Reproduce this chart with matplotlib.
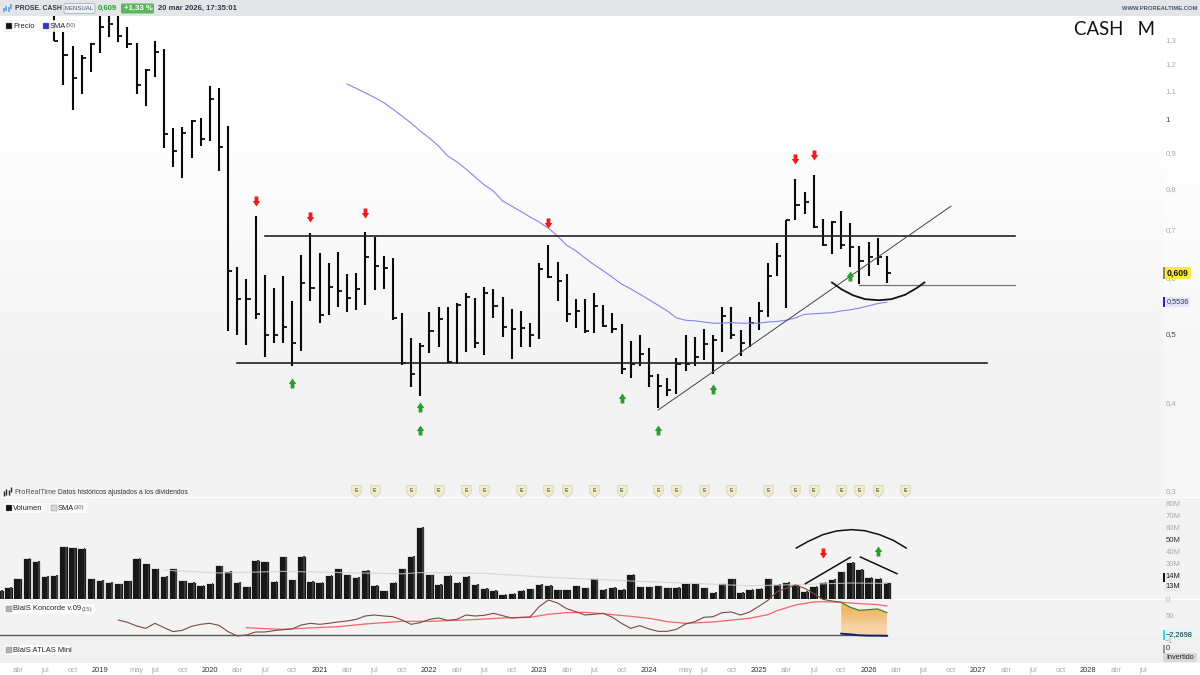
import numpy as np
import matplotlib
matplotlib.use('Agg')
import matplotlib.pyplot as plt
from matplotlib.colors import LinearSegmentedColormap
from matplotlib.patches import FancyBboxPatch, Rectangle
from matplotlib.path import Path
from matplotlib.ticker import NullLocator

plt.rcParams['font.family'] = ['Liberation Sans', 'DejaVu Sans']

# months counted from jan 2019 = 0
price_start = -5
price_high = [1.41,1.330,1.272,1.235,1.284,1.43,1.43,1.43,1.352,1.284,1.180,1.292,1.259,.974,.977,1.000,1.007,1.116,1.109,.981,
              .620,.597,.732,.604,.580,.602,.556,.645,.693,.650,.629,.652,.606,.608,.695,.684,.643,.639,.534,.493,
              .485,.537,.545,.545,.552,.570,.561,.582,.578,.563,.542,.538,.517,.629,.666,.631,.606,.560,.560,.570,
              .548,.534,.515,.488,.498,.477,.438,.433,.462,.497,.495,.507,.497,.545,.545,.506,.527,.554,.629,.671,
              .723,.826,.792,.836,.725,.721,.744,.716,.664,.673,.682,.643]
price_low = [1.293,1.120,1.033,1.088,1.169,1.243,1.309,1.289,1.263,1.088,1.047,1.150,.913,.859,.828,.884,.918,.934,.847,.504,
             .498,.482,.524,.463,.485,.485,.450,.472,.556,.517,.531,.545,.537,.540,.548,.576,.578,.522,.451,.420,
             .408,.469,.478,.454,.453,.471,.477,.466,.525,.495,.460,.478,.478,.491,.599,.556,.519,.509,.501,.501,
             .511,.501,.438,.433,.450,.420,.393,.408,.411,.442,.450,.459,.438,.471,.491,.465,.478,.506,.527,.602,
             .543,.723,.737,.705,.664,.648,.658,.620,.587,.602,.625,.589]
price_close = [1.293,1.235,1.146,1.223,1.280,1.352,1.366,1.314,1.280,1.120,1.176,1.247,.956,.904,.959,.997,.940,1.070,.916,.612,
               .560,.560,.533,.498,.497,.511,.485,.589,.580,.531,.582,.574,.561,.578,.641,.622,.618,.525,.454,.439,
               .480,.504,.524,.456,.548,.563,.485,.570,.547,.511,.508,.509,.498,.616,.601,.593,.533,.538,.504,.547,
               .512,.508,.446,.453,.468,.436,.422,.416,.453,.453,.463,.483,.490,.529,.498,.485,.517,.538,.602,.643,
               .723,.759,.767,.707,.666,.718,.666,.662,.633,.641,.641,.609]

sma50_start = 27
sma50 = [1.124,1.108,1.092,1.076,1.058,1.036,1.013,.990,.965,.943,.919,.890,.873,.853,.831,.810,.794,.769,.756,.743,
         .730,.718,.704,.686,.666,.654,.639,.625,.613,.600,.587,.578,.568,.558,.548,.538,.526,.522,.521,.519,
         .517,.517,.518,.517,.517,.517,.519,.520,.522,.526,.532,.533,.534,.535,.538,.540,.543,.547,.551,.5536]

sell_x = [17,23,29,49,76,78]
sell_y = [.769,.730,.739,.716,.881,.893]
buy_x = [21,35,35,57,61,67,82]
buy_y = [.426,.394,.365,.405,.365,.418,.603]

res_x, res_y = [18,100], [.687,.687]
sup_x, sup_y = [15,96.9], [.4543,.4543]
trend_x, trend_y = [61,93], [.390,.756]
neck_x, neck_y = [83,100], [.585,.585]
bowl_x = [80,81.05,82.3,83.6,85.1,86.5,88,89.3,90.1]
bowl_y = [.590,.577,.566,.559,.557,.559,.567,.580,.590]

div_x = [28,30,34,37,40,42,46,49,51,54,57,61,63,66,69,73,76,78,81,83,85,88]

vol_start = -11
volume = [7.8,10,17.2,34.4,32,19.4,20.3,43.9,43.3,42.8,17.2,
          16.1,14.4,13.1,15.6,34.4,29.7,25.6,19.4,25.6,15.8,14.2,11.7,
          13.6,28.1,23.6,14.2,10.6,32.5,31.4,15.3,35.6,16.4,36.1,15.3,
          14.2,20.3,25.6,20.8,18.6,24.2,11.7,7.2,14.2,25.8,36.1,60,
          20.8,12.5,20.3,14.2,19.4,12.5,9.2,7.8,4.4,5.3,7.8,8.9,
          12.5,11.9,8.3,8.3,11.4,9.7,17.2,8.6,10.3,8.6,21.1,10.8,
          10.8,11.4,9.7,10.3,13.1,13.3,9.7,6.1,13.3,17.2,6.1,8.6,
          9.4,17.2,12.5,14.2,11.9,6.9,11.1,14.2,16.7,23.3,31.1,25,18.6,17.8,14]
vsma_x = [7,13,20,33,35,42,49,59,64,71,76,82,86]
vsma_y = [24,21.7,23,21,22,21.4,18,14.7,13.3,11,12,13.3,13]
cup_x = [76.1,77.4,79,80.5,82.1,83.6,85.2,86.7,88.1]
cup_y = [42.5,48,53.6,56.7,57.8,56.9,53.6,48.9,42.5]
rise_x, rise_y = [77.1,82], [12.8,34.7]
fall_x, fall_y = [83.1,87.1], [35,21.1]

kon_start = 2
kon_brown = [39.5,33.3,23.7,17.5,30.7,19.3,8.8,12.3,22.8,28.1,30.7,25.4,8.8,-2.6,0,7.9,7.9,11.4,14,15.8,
             26.3,30.7,28.1,30.7,34.2,36.8,41.2,50,52.6,50,48.2,39.5,
             28.1,32.5,41.2,44.7,38.6,41.2,52.6,50,51.8,57,50.9,44.7,46.5,47.4,74.6,92.1,84.2,69.3,61.4,52.6,
             54.4,57,46.5,30.7,17.5,24.6,15.8,9.6,9.6,14.9,28.9,35.1,46.5,48.2,58.8,60.5,52.6,60.5,75.4,91.2,
             114,122.8,131.6,122.8,109.6,93.9,89.5,86]
kon_red_x = [16,18,20,22,26,29,33,36,40,44,47,49,51,53,55,56,58,60,62,64,67,71,73,74,76,78,79,81,83,85,86]
kon_red_y = [19.3,16.7,14.9,17.5,21.9,28.9,36,36,39.5,44.7,46.5,54.4,58.8,59.6,56.1,53.5,49.1,43.9,35.1,30.7,34.2,43.9,53.5,64,78.9,86.8,87.7,86,82.5,79.8,76.3]
kon_green_x = [81,82,83,84,85,86]
kon_green_y = [86,72.8,64.9,66.7,68.4,58.8]
kon_blue_y = [3.5,1.8,-0.9,-1.8,-1.8,-2.27]

price_ticks = [1.3,1.2,1.1,1,.9,.8,.7,.6,.5,.4,.3]
price_labels = ['1,3','1,2','1,1','1','0,9','0,8','0,7','0,6','0,5','0,4','0,3']
vol_ticks = [80,70,60,50,40,30,0]
vol_labels = ['80M','70M','60M','50M','40M','30M','0']
month_ticks = [-9,-6,-3,0,4,6,9,12,15,18,21,24,27,30,33,36,39,42,45,48,51,54,57,60,64,66,69,72,75,78,81,84,87,90,93,96,99,102,105,108,111,114]
month_labels = ['abr','jul','oct','2019','may','jul','oct','2020','abr','jul','oct','2021','abr','jul','oct','2022','abr','jul','oct','2023','abr','jul','oct','2024','may','jul','oct','2025','abr','jul','oct','2026','abr','jul','oct','2027','abr','jul','oct','2028','abr','jul']

W, H = 1200, 675
RIGHT = 1163
x_min = -100/9.15
x_max = (RIGHT-100)/9.15


def make_ax(top, bottom, zorder):
    ax = fig.add_axes([0, 1-bottom/H, RIGHT/W, (bottom-top)/H], zorder=zorder)
    ax.patch.set_visible(False)
    for s in ax.spines.values():
        s.set_visible(False)
    ax.yaxis.tick_right()
    ax.tick_params(axis='both', length=0, labelsize=5.6, pad=2)
    ax.set_xticks([])
    return ax


def chip(x0, x1, y, square, text, note=None, note_x=None, text_x=13):
    ov.add_patch(FancyBboxPatch((x0, y-5.5), x1-x0, 11, boxstyle='round,pad=0,rounding_size=2',
                                fc='white', ec='#eeeeee', lw=0.5, alpha=0.9))
    ov.add_patch(Rectangle((text_x-7, y-3), 6, 6, fc=square, ec='#888888', lw=0.3))
    ov.text(text_x, y, text, fontsize=5.4, color='#222222', va='center')
    if note:
        ov.text(note_x, y, note, fontsize=4.2, color='#555555', va='center')


def pill(x0, x1, y, text, fc, color='#222222', weight='normal', edge=None, h=11, size=5.6):
    ov.add_patch(FancyBboxPatch((x0, y-h/2), x1-x0, h, boxstyle='round,pad=0,rounding_size=1.5',
                                fc=fc, ec='none', lw=0))
    if edge:
        ov.add_patch(Rectangle((x0-1, y-h/2), 2, h, fc=edge, ec='none'))
    ov.text((x0+x1)/2+0.5, y, text, fontsize=size, color=color, weight=weight, ha='center', va='center')


fig = plt.figure(figsize=(12, 6.75), dpi=100, facecolor='white')

# backgrounds
bg = fig.add_axes([0, 0, 1, 1], zorder=0)
bg.set_xlim(0, W)
bg.set_ylim(H, 0)
bg.axis('off')
ramp = LinearSegmentedColormap.from_list('ramp', ['#fefefe', '#f3f3f3'])
bg.imshow([[0], [1]], cmap=ramp, extent=[0, RIGHT, 497, 16], aspect='auto', interpolation='bilinear', vmin=0, vmax=1)
bg.imshow([[0], [1]], cmap=LinearSegmentedColormap.from_list('ramp2', ['#ffffff', '#f6f6f6']),
          extent=[RIGHT, W, 497, 16], aspect='auto', interpolation='bilinear', vmin=0, vmax=1)
bg.add_patch(Rectangle((0, 497.5), W, 101.5, fc='#f3f3f3', ec='none'))
bg.add_patch(Rectangle((0, 600), W, 37, fc='#f3f3f3', ec='none'))
bg.add_patch(Rectangle((0, 637), W, 26, fc='#f0f0f0', ec='none'))
bg.set_xlim(0, W)
bg.set_ylim(H, 0)

# price panel
ax = make_ax(16, 497, 2)
ax.set_yscale('log')
px = np.arange(price_start, price_start+len(price_close))
ax.vlines(px, price_low, price_high, color='#0a0a0a', lw=1.5)
ax.hlines(price_close, px, px+0.45, color='#0a0a0a', lw=1.3)
ax.plot(np.arange(sma50_start, sma50_start+len(sma50)), sma50, color='#8585ee', lw=0.8)
ax.plot(res_x, res_y, color='#222222', lw=1.2)
ax.plot(sup_x, sup_y, color='#222222', lw=1.2)
ax.plot(trend_x, trend_y, color='#444444', lw=0.7)
ax.plot(neck_x, neck_y, color='#777777', lw=0.9)
ax.plot(bowl_x, bowl_y, color='#111111', lw=1.3)

# arrows as own marker
down = Path([(-.38,1),(.38,1),(.38,.1),(.75,.1),(0,-1),(-.75,.1),(-.38,.1),(-.38,1)], closed=True)
up = Path([(-.38,-1),(.38,-1),(.38,-.1),(.75,-.1),(0,1),(-.75,-.1),(-.38,-.1),(-.38,-1)], closed=True)
ax.plot(sell_x, sell_y, ls='none', marker=down, ms=7.2, color='#ee1c1c', mew=0)
ax.plot(buy_x, buy_y, ls='none', marker=up, ms=7.2, color='#2a9d2f', mew=0)

# dividend shields
shield = Path([(-.8,1),(.8,1),(.8,-.25),(0,-1),(-.8,-.25),(-.8,1)], closed=True)
ax.plot(div_x, [0.0125]*len(div_x), ls='none', marker=shield, ms=8.5, mfc='#eeeecd', mec='#cfcfa5', mew=0.5,
        transform=ax.get_xaxis_transform(), clip_on=False)
for d in div_x:
    ax.text(d, 0.0135, 'E', fontsize=3.6, color='#66664a', ha='center', va='center', weight='bold',
            transform=ax.get_xaxis_transform())

ax.set_xlim(x_min, x_max)
ax.set_ylim(np.exp((120-497)/308), np.exp((120-16)/308))
ax.yaxis.set_minor_locator(NullLocator())
ax.set_yticks(price_ticks)
ax.set_yticklabels(price_labels)
for t, lab in zip(ax.get_yticklabels(), price_labels):
    t.set_color('#444444' if lab in ('1', '0,5') else '#aaaaaa')

# volume panel
vx = np.arange(vol_start, vol_start+len(volume))
vax = make_ax(497, 599, 3)
vax.bar(vx, volume, width=0.92, color='#181818', edgecolor='white', linewidth=0.5)
vax.bar(vx+0.3, np.array(volume)-0.4, width=0.18, color='#3c3c3c', linewidth=0)
vax.plot(vsma_x, vsma_y, color='#cfcfcf', lw=0.8, alpha=0.8)
vax.plot(cup_x, cup_y, color='#111111', lw=1.1)
vax.plot(rise_x, rise_y, color='#111111', lw=1.1)
vax.plot(fall_x, fall_y, color='#111111', lw=1.1)
vax.plot([79], [38.3], ls='none', marker=down, ms=7.2, color='#ee1c1c', mew=0)
vax.plot([85], [39.7], ls='none', marker=up, ms=7.2, color='#2a9d2f', mew=0)
vax.set_xlim(x_min, x_max)
vax.set_ylim(0, 85)
vax.set_yticks(vol_ticks)
vax.set_yticklabels(vol_labels)
for t, lab in zip(vax.get_yticklabels(), vol_labels):
    t.set_color('#333333' if lab == '50M' else '#aaaaaa')

# koncorde panel
kax = make_ax(599, 637, 4)
kx = np.arange(kon_start, kon_start+len(kon_brown))
poly = kax.fill_between(kon_green_x, kon_green_y, 0, color='none', lw=0)
orange = LinearSegmentedColormap.from_list('orange', ['#f1b664', '#f6d4a6'])
im = kax.imshow([[0], [1]], cmap=orange, extent=[kon_green_x[0], kon_green_x[-1], 0, max(kon_green_y)],
                aspect='auto', interpolation='bilinear', vmin=0, vmax=1, zorder=1)
im.set_clip_path(poly.get_paths()[0], transform=kax.transData)
kax.plot([x_min, kon_green_x[-1]], [0, 0], color='#555555', lw=1.0, zorder=2)
kax.plot(kon_red_x, kon_red_y, color='#f46464', lw=0.9, clip_on=False, zorder=3)
kax.plot(kx, kon_brown, color='#7a4a44', lw=0.8, clip_on=False, zorder=4)
kax.plot(kon_green_x, kon_green_y, color='#3f8a2c', lw=0.9, zorder=5)
kax.plot(kon_green_x, kon_blue_y, color='#101a70', lw=1.3, zorder=5)
kax.set_xlim(x_min, x_max)
kax.set_ylim(-5.3, 94.7)
kax.set_yticks([50])
kax.set_yticklabels(['50'], color='#aaaaaa')

# bottom empty panel holds the time axis
tax = make_ax(637, 663, 4)
tax.set_xlim(x_min, x_max)
tax.set_yticks([])
tax.set_xticks(month_ticks)
tax.set_xticklabels(month_labels)
tax.tick_params(axis='x', pad=3, labelsize=5.4)
for t, lab in zip(tax.get_xticklabels(), month_labels):
    t.set_color('#333333' if lab.isdigit() else '#aaaaaa')

# chart chrome drawn in pixel space
ov = fig.add_axes([0, 0, 1, 1], zorder=10)
ov.set_xlim(0, W)
ov.set_ylim(H, 0)
ov.axis('off')
ov.add_patch(Rectangle((0, 0), W, 16, fc='#e3e5e8', ec='none'))
ov.vlines([3.5,6,8.5,10.5], [8,6,7,4], [12,11,12,9], color='#5b9bd5', lw=1.1)
ov.text(15, 8.7, 'PROSE. CASH', fontsize=4.9, weight='bold', color='#2f3a48', va='center')
ov.add_patch(FancyBboxPatch((64, 3.5), 31, 10, boxstyle='round,pad=0,rounding_size=1.5', fc='#eef1f5', ec='#9aa8b8', lw=0.5))
ov.text(79.5, 8.7, 'MENSUAL', fontsize=4.3, color='#44546a', ha='center', va='center')
ov.text(98, 8.7, '0,609', fontsize=5.6, weight='bold', color='#2aa02a', va='center')
pill(121, 154, 8.5, '+1,33 %', '#5cb85c', color='white', weight='bold', h=10, size=5.6)
ov.text(158, 8.7, '20 mar 2026, 17:35:01', fontsize=5.5, weight='bold', color='#2f3a48', va='center')
ov.text(1198, 9, 'WWW.PROREALTIME.COM', fontsize=4.2, weight='bold', color='#4a5a70', ha='right', va='center')
ov.text(1155, 29.5, 'CASH   M', fontsize=13.4, color='#111111', ha='right', va='center', family='Lato')

chip(3, 36, 26, '#111111', 'Precio')
chip(40, 79, 26, '#3333cc', 'SMA', '(50)', 66, text_x=50)
chip(3, 44, 508, '#111111', 'Volumen')
chip(49, 88, 508, '#d5d5d5', 'SMA', '(30)', 74, text_x=58)
chip(4, 95, 609, '#b0b4ba', 'BlaiS Koncorde v.09', '(15)', 82)
chip(4, 70, 650, '#b0b4ba', 'BlaiS ATLAS Mini')

ov.vlines([3.5,6,8.5,10.5], [491,489,490,487], [496,495,495,492], color='#222222', lw=1)
ov.text(14, 492, 'ProRealTime', fontsize=5.2, color='#555555', va='center')
ov.text(58, 492, 'Datos históricos ajustados a los dividendos', fontsize=4.9, color='#333333', va='center')

pill(1164, 1191, 273, '0,609', '#ffe93b', color='#111111', weight='bold', edge='#888866', h=12, size=6.2)
pill(1164, 1190, 302, '0,5536', '#e6e6fa', color='#333355', edge='#2222dd', h=10, size=5.3)
pill(1164, 1181, 577, '14M', '#ececec', color='#222222', edge='#111111', h=9, size=5.4)
pill(1164, 1181, 587, '13M', '#ececec', color='#222222', h=9, size=5.4)
pill(1164, 1194, 634.5, '−2,2698', '#d8fbfb', color='#222222', edge='#22e6ee', h=10, size=5.3)
ov.text(1165, 641.5, '−1', fontsize=5, color='#aaaaaa', va='center')
pill(1164, 1171, 649, '0', '#f3f3f3', color='#222222', edge='#999999', h=9, size=5.4)
pill(1163, 1197, 657.5, 'Invertido', '#d8d8d8', color='#222222', h=9, size=5.2)

fig.savefig('out.png', dpi=100)
